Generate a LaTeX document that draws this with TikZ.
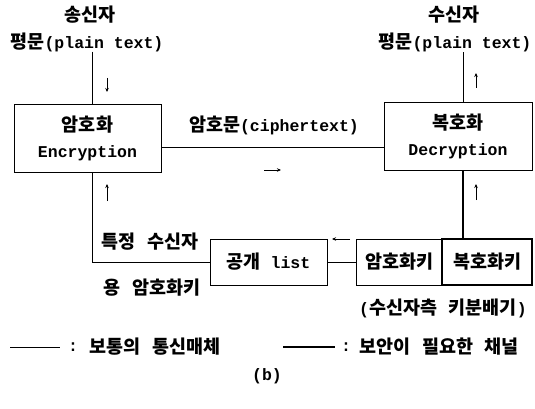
\documentclass[tikz,border=0pt]{standalone}
\usepackage{fontspec}
\setmainfont{Liberation Mono}
\setmonofont{Liberation Mono}
\newfontfamily\krfont{Noto Sans CJK KR}[Scale=1.12, WordSpace=2.8]
\usetikzlibrary{arrows.meta}
\begin{document}
\begin{tikzpicture}[x=1pt,y=-1pt,
  txt/.style={inner sep=0pt, font=\fontsize{16.5}{26}\selectfont\bfseries},
  boxnode/.style={draw, line width=0.8pt, inner sep=0pt, align=center, font=\fontsize{16.5}{26}\selectfont\bfseries},
  thinline/.style={line width=0.8pt},
  heavyline/.style={line width=2.8pt},
  smallarrow/.style={-{Stealth[length=4pt,width=3.5pt]}, line width=0.7pt}]
\useasboundingbox (0,0) rectangle (535,409);
% boxes
\node[boxnode, minimum width=147pt, minimum height=68pt] (enc) at (87.5,138) {{\krfont 암호화}\\Encryption};
\node[boxnode, minimum width=148pt, minimum height=68pt] (dec) at (458,136) {{\krfont 복호화}\\Decryption};
\node[boxnode, minimum width=117pt, minimum height=46pt] (list) at (268.5,262) {{\krfont 공개} list};
\node[boxnode, minimum width=86pt, minimum height=46pt] (ek) at (399,262) {\krfont 암호화키};
\node[boxnode, line width=2.4pt, minimum width=90pt, minimum height=46pt] (dk) at (487,262) {\krfont 복호화키};
% labels
\node[txt] (sndr) at (90,15) {\krfont 송신자};
\node[txt] (ptL) at (87,42) {{\krfont 평문}(plain text)};
\node[txt] (rcvr) at (454,15) {\krfont 수신자};
\node[txt] (ptR) at (455,42) {{\krfont 평문}(plain text)};
\node[txt] (ct) at (274,125) {{\krfont 암호문}(ciphertext)};
\node[txt] (sk1) at (150,242) {\krfont 특정 수신자};
\node[txt] (sk2) at (152,288) {\krfont 용 암호화키};
\node[txt] (kd) at (443,308) {({\krfont 수신자측 키분배기})};
% coordinates
\coordinate (inL) at (92,50);
\coordinate (outR) at (463,50);
\coordinate (cl) at (0,147);
% connectors
\draw[thinline] (ptL.south -| inL) -- (enc.north -| inL);
\draw[thinline] (enc.south -| inL) |- (list.west);
\draw[thinline] (enc.east |- cl) -- (dec.west |- cl);
\draw[thinline] (dec.north -| outR) -- (ptR.south -| outR);
\draw[thinline] (list.east) -- (ek.west);
\draw[heavyline] (dec.south -| outR) -- (dk.north -| outR);
% small direction arrows
\draw[smallarrow] (107,78) -- (107,92);
\draw[smallarrow] (107,201) -- (107,184);
\draw[smallarrow] (476,88) -- (476,73);
\draw[smallarrow] (476,200) -- (476,184);
\draw[smallarrow] (264,170) -- (281,170);
\draw[smallarrow] (350,239) -- (332,239);
% legend
\coordinate (lg1a) at (10,347);
\coordinate (lg1b) at (60,347);
\coordinate (lg2a) at (283,347);
\coordinate (lg2b) at (335,347);
\draw[thinline] (lg1a) -- (lg1b);
\draw[heavyline] (lg2a) -- (lg2b);
\node[txt, anchor=west] (lgc1) at (68,347) {:};
\node[txt, anchor=west] (lgt1) at (89,347) {\krfont 보통의 통신매체};
\node[txt, anchor=west] (lgc2) at (341,347) {:};
\node[txt, anchor=west] (lgt2) at (359,347) {\krfont 보안이 필요한 채널};
\node[txt] (cap) at (267,376) {(b)};
\end{tikzpicture}
\end{document}
